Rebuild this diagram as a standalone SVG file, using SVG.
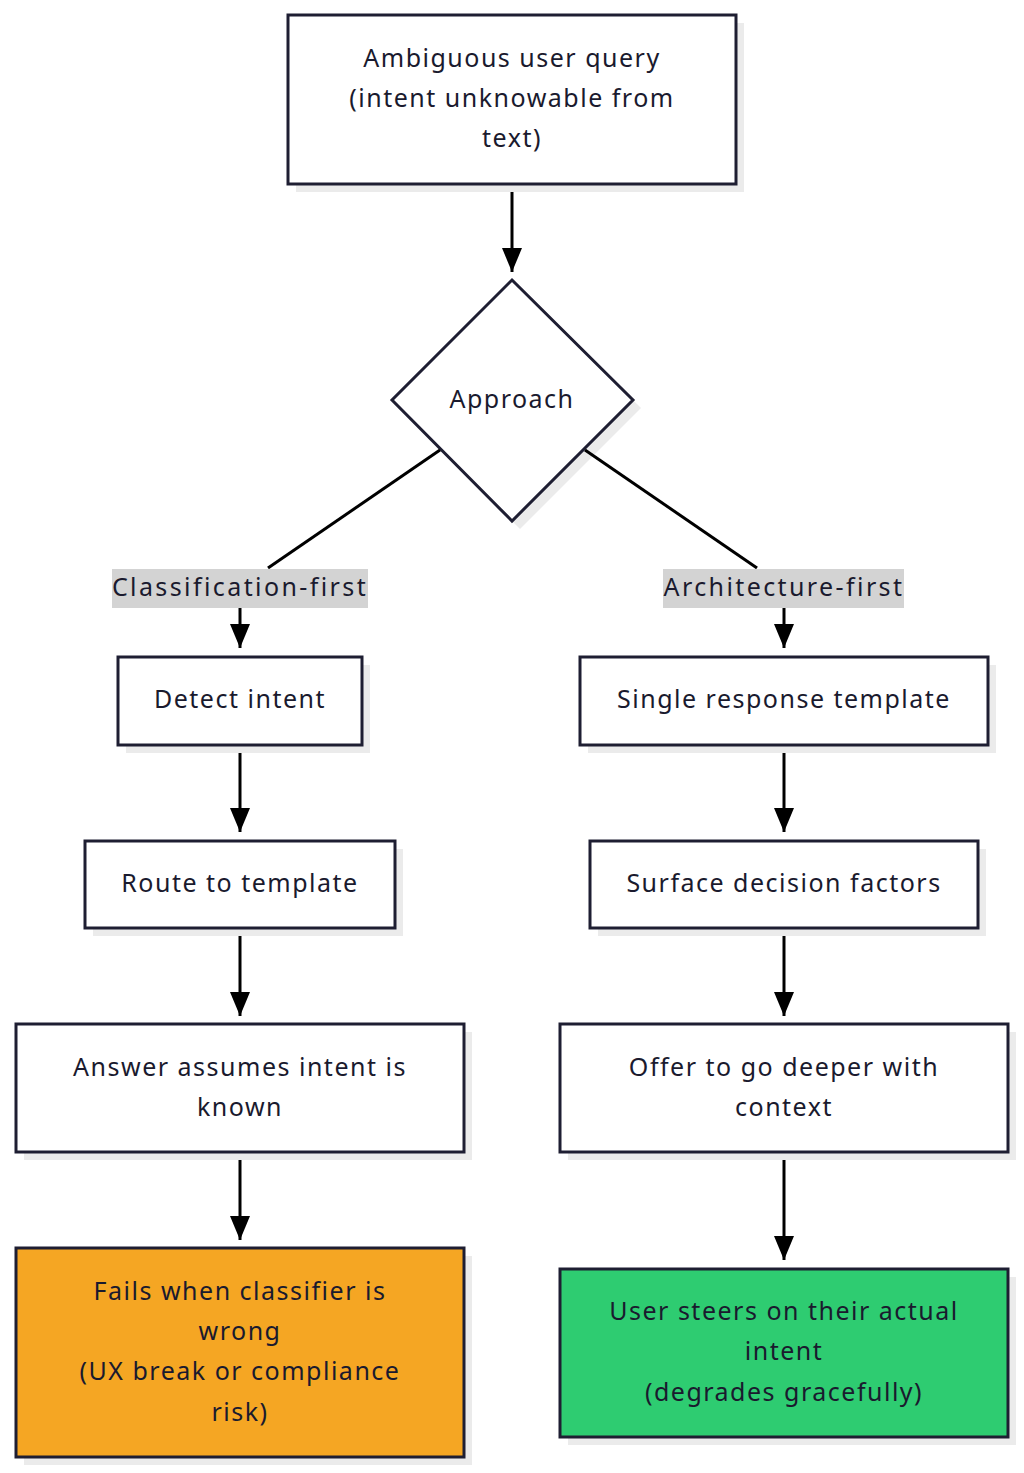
<svg xmlns="http://www.w3.org/2000/svg" width="1024" height="1473" viewBox="0 0 1024 1473">
<style>
.box{fill:#fff;stroke:#1e1e32;stroke-width:3}
.sh{fill:#ebebeb}
.t{font-family:"Noto Sans","DejaVu Sans",sans-serif;font-size:25px;fill:#1a1a2e;text-anchor:middle;dominant-baseline:central;letter-spacing:1.5px}
.l{letter-spacing:2.4px}
.e{stroke:#000;stroke-width:3;fill:none}
.lb{fill:#d3d3d3}
</style>
<defs>
<marker id="a" viewBox="0 0 24 20" refX="24" refY="10" markerWidth="24" markerHeight="20" markerUnits="userSpaceOnUse" orient="auto">
<path d="M0,0 L24,10 L0,20 z" fill="#000"/>
</marker>
</defs>
<rect width="1024" height="1473" fill="#fff"/>
<g id="n2">
<polygon class="sh" points="520,288 641,408 520,529 399,408"/>
<polygon class="box" points="512,280 633,400 512,521 392,400"/>
<text class="t" x="512" y="398">Approach</text>
</g>
<g id="edges">
<path class="e" d="M512,184 V272" marker-end="url(#a)"/>
<path class="e" d="M440,450 L268,568"/>
<path class="e" d="M585,450 L757,568"/>
<path class="e" d="M240,608 V648" marker-end="url(#a)"/>
<path class="e" d="M784,608 V648" marker-end="url(#a)"/>
<path class="e" d="M240,745 V832" marker-end="url(#a)"/>
<path class="e" d="M784,745 V832" marker-end="url(#a)"/>
<path class="e" d="M240,928 V1016" marker-end="url(#a)"/>
<path class="e" d="M784,928 V1016" marker-end="url(#a)"/>
<path class="e" d="M240,1152 V1240" marker-end="url(#a)"/>
<path class="e" d="M784,1152 V1260" marker-end="url(#a)"/>
<rect class="lb" x="112" y="569" width="256" height="39"/>
<text class="t l" x="240" y="586">Classification-first</text>
<rect class="lb" x="663" y="569" width="241" height="39"/>
<text class="t l" x="784" y="586">Architecture-first</text>
</g>
<g id="n1">
<rect class="sh" x="296" y="23" width="448" height="169"/>
<rect class="box" x="288" y="15" width="448" height="169"/>
<text class="t" x="512" y="57">Ambiguous user query</text>
<text class="t" x="512" y="97">(intent unknowable from</text>
<text class="t" x="512" y="137">text)</text>
</g>
<g id="n3">
<rect class="sh" x="126" y="665" width="244" height="88"/>
<rect class="box" x="118" y="657" width="244" height="88"/>
<text class="t" x="240" y="698">Detect intent</text>
</g>
<g id="n4">
<rect class="sh" x="93" y="849" width="310" height="87"/>
<rect class="box" x="85" y="841" width="310" height="87"/>
<text class="t" x="240" y="882">Route to template</text>
</g>
<g id="n5">
<rect class="sh" x="24" y="1032" width="448" height="128"/>
<rect class="box" x="16" y="1024" width="448" height="128"/>
<text class="t" x="240" y="1066">Answer assumes intent is</text>
<text class="t" x="240" y="1106">known</text>
</g>
<g id="n6">
<rect class="sh" x="24" y="1256" width="448" height="209"/>
<rect class="box" x="16" y="1248" width="448" height="209" style="fill:#f5a623"/>
<text class="t" x="240" y="1290">Fails when classifier is</text>
<text class="t" x="240" y="1330">wrong</text>
<text class="t" x="240" y="1370">(UX break or compliance</text>
<text class="t" x="240" y="1411">risk)</text>
</g>
<g id="n7">
<rect class="sh" x="588" y="665" width="408" height="88"/>
<rect class="box" x="580" y="657" width="408" height="88"/>
<text class="t" x="784" y="698">Single response template</text>
</g>
<g id="n8">
<rect class="sh" x="598" y="849" width="388" height="87"/>
<rect class="box" x="590" y="841" width="388" height="87"/>
<text class="t" x="784" y="882">Surface decision factors</text>
</g>
<g id="n9">
<rect class="sh" x="568" y="1032" width="448" height="128"/>
<rect class="box" x="560" y="1024" width="448" height="128"/>
<text class="t" x="784" y="1066">Offer to go deeper with</text>
<text class="t" x="784" y="1106">context</text>
</g>
<g id="n10">
<rect class="sh" x="568" y="1277" width="448" height="168"/>
<rect class="box" x="560" y="1269" width="448" height="168" style="fill:#2ecc71"/>
<text class="t" x="784" y="1310">User steers on their actual</text>
<text class="t" x="784" y="1350">intent</text>
<text class="t" x="784" y="1391">(degrades gracefully)</text>
</g>
</svg>
